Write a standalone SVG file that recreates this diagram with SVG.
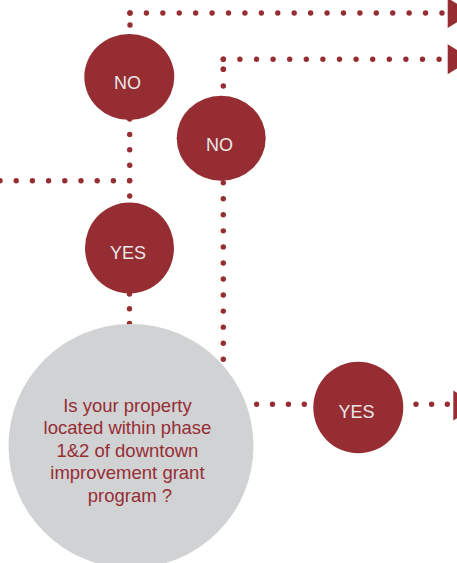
<svg xmlns="http://www.w3.org/2000/svg" width="457" height="563" viewBox="0 0 457 563">
  <style>
    .dots { fill: none; stroke: #962d33; stroke-width: 5.4; stroke-linecap: round; }
    .head { fill: #962d33; }
    .answer { fill: #962d33; }
    .answer-label { fill: #ebe8e8; font-family: "Liberation Sans", Arial, sans-serif; font-size: 18px; text-anchor: middle; }
    .question { fill: #d1d2d4; }
    .question-label { fill: #962d33; font-family: "Liberation Sans", Arial, sans-serif; font-size: 18.5px; text-anchor: middle; }
  </style>
  <defs>
    <path id="arrowhead" d="M0 -15 L24 0 L0 15 Z"/>
  </defs>

  <rect width="457" height="563" fill="#ffffff"/>

  <g id="connectors">
    <!-- first NO: up and out to the right -->
    <path class="dots" d="M130 25 V12.5" stroke-dasharray="0 12"/>
    <path class="dots" d="M130 13 H442.5" stroke-dasharray="0 16.42"/>
    <use href="#arrowhead" class="head" transform="translate(447.7 13)"/>

    <!-- second NO: up and out to the right -->
    <path class="dots" d="M223.3 86 V69" stroke-dasharray="0 16.7"/>
    <path class="dots" d="M223.3 69.3 V59" stroke-dasharray="0 10"/>
    <path class="dots" d="M223.3 59.3 H440" stroke-dasharray="0 16.6"/>
    <use href="#arrowhead" class="head" transform="translate(447.7 59.3)"/>

    <!-- incoming line from the left -->
    <path class="dots" d="M0 180.7 H130" stroke-dasharray="0 16.2"/>
    <!-- first NO down to YES -->
    <path class="dots" d="M129.7 119 V196.5" stroke-dasharray="0 15.4"/>
    <!-- YES down to the question -->
    <path class="dots" d="M129.5 294 V324" stroke-dasharray="0 14.7"/>

    <!-- second NO down behind the question, then across to YES -->
    <path class="dots" d="M223.3 182.7 V404.8" stroke-dasharray="0 16.05"/>
    <path class="dots" d="M304.3 404.3 H223" stroke-dasharray="0 15.9"/>

    <!-- YES out to the right -->
    <path class="dots" d="M416 404.3 H448" stroke-dasharray="0 15.65"/>
    <use href="#arrowhead" class="head" transform="translate(453.3 405.5)"/>
  </g>

  <g id="no-1">
    <ellipse class="answer" cx="129.3" cy="77" rx="45" ry="43"/>
    <text class="answer-label" x="127.5" y="89">NO</text>
  </g>

  <g id="no-2">
    <ellipse class="answer" cx="221.2" cy="138.3" rx="44.5" ry="42.5"/>
    <text class="answer-label" x="219.5" y="150.5">NO</text>
  </g>

  <g id="yes-1">
    <ellipse class="answer" cx="129.5" cy="248" rx="44.5" ry="45.5"/>
    <text class="answer-label" x="128" y="259">YES</text>
  </g>

  <g id="question">
    <ellipse class="question" cx="131" cy="446" rx="122.5" ry="122"/>
    <text class="question-label">
      <tspan x="130" y="411.5">Is your property</tspan>
      <tspan x="130" y="434">located within phase</tspan>
      <tspan x="130" y="456.5">1&amp;2 of downtown</tspan>
      <tspan x="130" y="479">improvement grant</tspan>
      <tspan x="130" y="501.5">program ?</tspan>
    </text>
  </g>

  <g id="yes-2">
    <ellipse class="answer" cx="358.3" cy="407.5" rx="45" ry="45.8"/>
    <text class="answer-label" x="356.5" y="418">YES</text>
  </g>
</svg>
